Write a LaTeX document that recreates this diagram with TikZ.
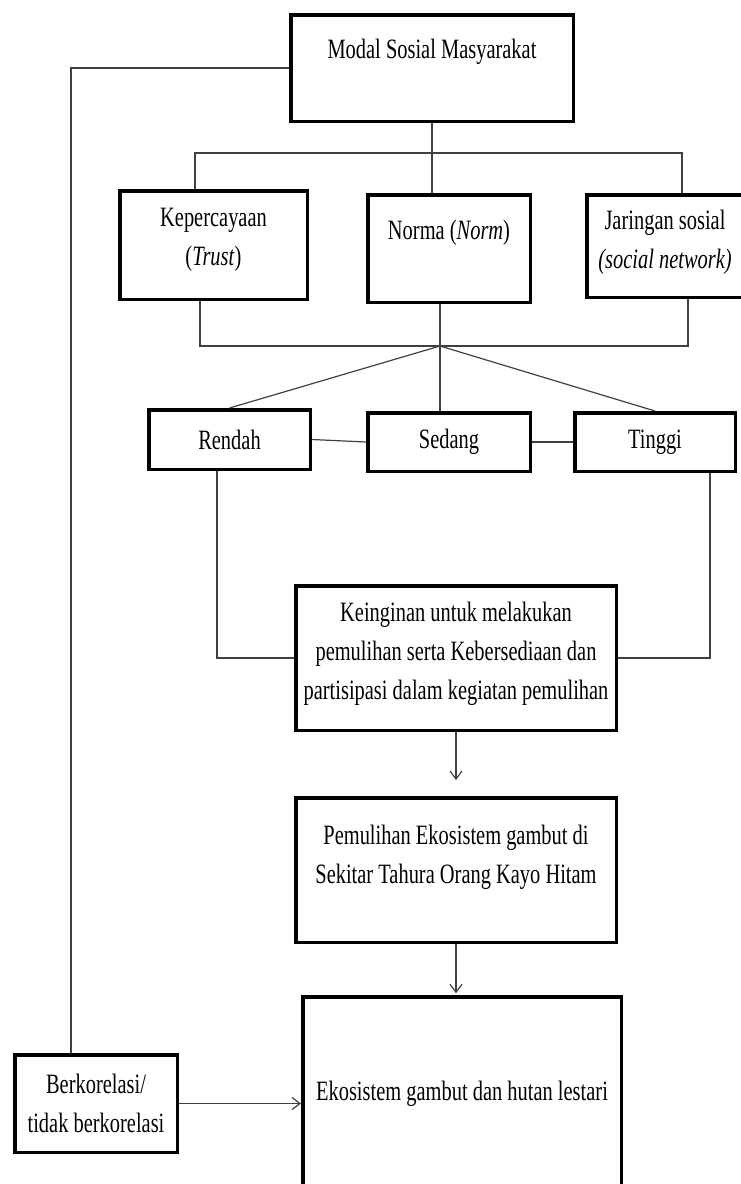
\documentclass[tikz,border=0pt]{standalone}
\usepackage{fontspec}
\setmainfont{Liberation Serif}[FakeStretch=0.73]
\usetikzlibrary{arrows.meta}
\newcommand\lift[1]{\rule[-#1]{0pt}{0pt}}

\begin{document}
\begin{tikzpicture}[
  x=0.5pt, y=-0.5pt,
  box/.style={
    draw, line width=1.75pt, inner sep=0pt, align=center,
    font=\fontsize{14}{19.6}\selectfont
  },
  link/.style={draw=black!75, line width=0.6pt},
  flow/.style={link, -{Straight Barb[length=4pt,width=6pt]}}
]
\useasboundingbox (0,0) rectangle (740,1184);
%% TOP
\node[box, minimum width=141.25pt, minimum height=53.25pt] (M) at (432,68)    {Modal Sosial Masyarakat\lift{19pt}};
%% ELEMENTS
\node[box, minimum width=93.75pt,  minimum height=54.25pt] (K) at (213.5,245) {Kepercayaan\\(\textit{Trust})\lift{8pt}};
\node[box, minimum width=81.25pt,  minimum height=53.75pt] (N) at (449,248.5) {Norma (\textit{Norm})\lift{19pt}};
\node[box, minimum width=78.25pt,  minimum height=51.25pt] (J) at (665,246)   {Jaringan sosial\\\textit{(social network)}\lift{6.5pt}};
%% LEVELS
\node[box, minimum width=80.75pt,  minimum height=29.75pt] (R) at (229.5,439.5) {Rendah};
\node[box, minimum width=81.25pt,  minimum height=29.25pt] (S) at (449,442)     {Sedang};
\node[box, minimum width=80.25pt,  minimum height=29.25pt] (T) at (655,442)     {Tinggi};
%% OUTCOMES
\node[box, minimum width=160.25pt, minimum height=72.25pt] (W) at (456,658)  {Keinginan untuk melakukan\\pemulihan serta Kebersediaan dan\\partisipasi dalam kegiatan pemulihan\lift{7pt}};
\node[box, minimum width=160.25pt, minimum height=72.25pt] (P) at (456,870)  {Pemulihan Ekosistem gambut di\\Sekitar Tahura Orang Kayo Hitam\lift{16pt}};
\node[box, minimum width=159.25pt, minimum height=96.5pt]  (E) at (462,1093.5) {Ekosistem gambut dan hutan lestari};
\node[box, minimum width=81.25pt,  minimum height=48.75pt] (B) at (96,1103.5)  {Berkorelasi/\\tidak berkorelasi};
%% JOINTS
\coordinate (lft) at (71,68);
\coordinate (tl)  at (195,153);
\coordinate (tr)  at (682,153);
\coordinate (bl)  at (200,346);
\coordinate (br)  at (688,346);
\coordinate (hub) at (440,346);
\coordinate (rl)  at (217,658);
\coordinate (rr)  at (710,658);
%% LINKS
\draw[link] (M.west) -- (lft) -- (lft |- B.north);
\draw[link] (M.south) -- (M.south |- N.north);
\draw[link] (K.north -| tl) -- (tl) -- (tr) -- (J.north -| tr);
\draw[link] (K.south -| bl) -- (bl) -- (br) -- (J.south -| br);
\draw[link] (N.south -| hub) -- (S.north -| hub);
\draw[link] (hub) -- (R.north);
\draw[link] (hub) -- (T.north);
\draw[link] (R.east) -- (S.west);
\draw[link] (S.east) -- (T.west);
\draw[link] (R.south -| rl) -- (rl) -- (W.west);
\draw[link] (T.south -| rr) -- (rr) -- (W.east);
\draw[flow, shorten >=8pt] (W.south) -- (P.north);
\draw[flow, shorten >=1pt] (P.south) -- (P.south |- E.north);
\draw[flow] (B.east) -- (B.east -| E.west);
\end{tikzpicture}
\end{document}
